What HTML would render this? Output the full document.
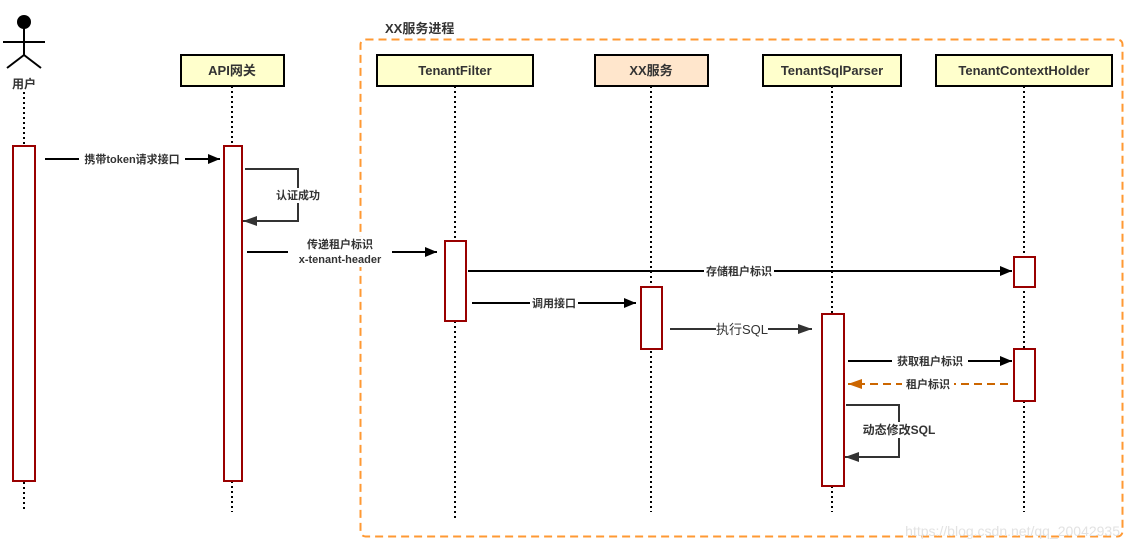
<!DOCTYPE html>
<html><head><meta charset="utf-8"><style>
html,body{margin:0;padding:0;background:#fff;}
svg{display:block;}
text{font-family:"Liberation Sans","Noto Sans CJK SC",sans-serif;font-weight:bold;fill:#333;}
</style></head><body>
<svg width="1132" height="551" viewBox="0 0 1132 551" xmlns="http://www.w3.org/2000/svg">
<defs>
<marker id="a" markerWidth="12" markerHeight="10" refX="12" refY="5" orient="auto" markerUnits="userSpaceOnUse"><path d="M0,0 L12,5 L0,10 Z" fill="#000"/></marker>
<marker id="g" markerWidth="14" markerHeight="10" refX="14" refY="5" orient="auto" markerUnits="userSpaceOnUse"><path d="M0,0 L14,5 L0,10 Z" fill="#333"/></marker>
<marker id="o" markerWidth="14" markerHeight="10" refX="14" refY="5" orient="auto" markerUnits="userSpaceOnUse"><path d="M0,0 L14,5 L0,10 Z" fill="#cc6600"/></marker>
</defs>
<rect x="360.5" y="39.5" width="762" height="497" rx="5" fill="none" stroke="#ff9933" stroke-width="2" stroke-dasharray="8,5"/>
<text x="385" y="33" font-size="13">XX服务进程</text>
<circle cx="24" cy="22" r="7" fill="#000"/>
<g stroke="#000" stroke-width="2" fill="none"><line x1="24" y1="28" x2="24" y2="55"/><line x1="3" y1="42" x2="45" y2="42"/><line x1="24" y1="55" x2="7" y2="68"/><line x1="24" y1="55" x2="41" y2="68"/></g>
<text x="24" y="88" font-size="12" text-anchor="middle">用户</text>
<g stroke="#000" stroke-width="2" stroke-dasharray="2,3">
<line x1="24" y1="92" x2="24" y2="512"/>
<line x1="232" y1="86" x2="232" y2="512"/>
<line x1="455" y1="86" x2="455" y2="518"/>
<line x1="651" y1="86" x2="651" y2="512"/>
<line x1="832" y1="86" x2="832" y2="512"/>
<line x1="1024" y1="86" x2="1024" y2="512"/>
</g>
<g stroke="#000" stroke-width="2">
<rect x="181" y="55" width="103" height="31" fill="#ffffcc"/>
<rect x="377" y="55" width="156" height="31" fill="#ffffcc"/>
<rect x="595" y="55" width="113" height="31" fill="#ffe6cc"/>
<rect x="763" y="55" width="138" height="31" fill="#ffffcc"/>
<rect x="936" y="55" width="176" height="31" fill="#ffffcc"/>
</g>
<g font-size="13" text-anchor="middle">
<text x="232" y="75">API网关</text>
<text x="455" y="75">TenantFilter</text>
<text x="651" y="75">XX服务</text>
<text x="832" y="75">TenantSqlParser</text>
<text x="1024" y="75">TenantContextHolder</text>
</g>
<g stroke="#990000" stroke-width="2" fill="#fff">
<rect x="13" y="146" width="22" height="335"/>
<rect x="224" y="146" width="18" height="335"/>
<rect x="445" y="241" width="21" height="80"/>
<rect x="641" y="287" width="21" height="62"/>
<rect x="822" y="314" width="22" height="172"/>
<rect x="1014" y="257" width="21" height="30"/>
<rect x="1014" y="349" width="21" height="52"/>
</g>
<g stroke="#000" stroke-width="2" fill="none">
<line x1="45" y1="159" x2="220" y2="159" marker-end="url(#a)"/>
<line x1="247" y1="252" x2="437" y2="252" marker-end="url(#a)"/>
<line x1="468" y1="271" x2="1012" y2="271" marker-end="url(#a)"/>
<line x1="472" y1="303" x2="636" y2="303" marker-end="url(#a)"/>
<line x1="848" y1="361" x2="1012" y2="361" marker-end="url(#a)"/>
</g>
<g stroke="#333" stroke-width="2" fill="none">
<polyline points="245,169 298,169 298,221 243,221" marker-end="url(#g)"/>
<line x1="670" y1="329" x2="812" y2="329" marker-end="url(#g)"/>
<polyline points="846,405 899,405 899,457 845,457" marker-end="url(#g)"/>
</g>
<line x1="1008" y1="384" x2="848" y2="384" stroke="#cc6600" stroke-width="2" stroke-dasharray="8,5" marker-end="url(#o)"/>
<g font-size="11" text-anchor="middle">
<rect x="79" y="151" width="106" height="15" fill="#fff"/><text x="132" y="163">携带token请求接口</text>
<rect x="274" y="188" width="48" height="15" fill="#fff"/><text x="298" y="199">认证成功</text>
<rect x="288" y="237" width="104" height="30" fill="#fff"/><text x="340" y="248">传递租户标识</text><text x="340" y="263">x-tenant-header</text>
<rect x="704" y="263" width="70" height="15" fill="#fff"/><text x="739" y="275">存储租户标识</text>
<rect x="530" y="295" width="48" height="15" fill="#fff"/><text x="554" y="307">调用接口</text>
<rect x="892" y="353" width="76" height="15" fill="#fff"/><text x="930" y="365">获取租户标识</text>
<rect x="902" y="376" width="52" height="15" fill="#fff"/><text x="928" y="388">租户标识</text>
</g>
<rect x="716" y="321" width="52" height="16" fill="#fff"/><text x="742" y="334" font-size="13" style="font-weight:normal" text-anchor="middle">执行SQL</text>
<rect x="860" y="422" width="78" height="16" fill="#fff"/><text x="899" y="434" font-size="12" text-anchor="middle">动态修改SQL</text>
<text x="1120" y="536" font-size="14" style="font-weight:normal;fill:#e2e2e2" text-anchor="end">https://blog.csdn.net/qq_20042935</text>
</svg>
</body></html>
